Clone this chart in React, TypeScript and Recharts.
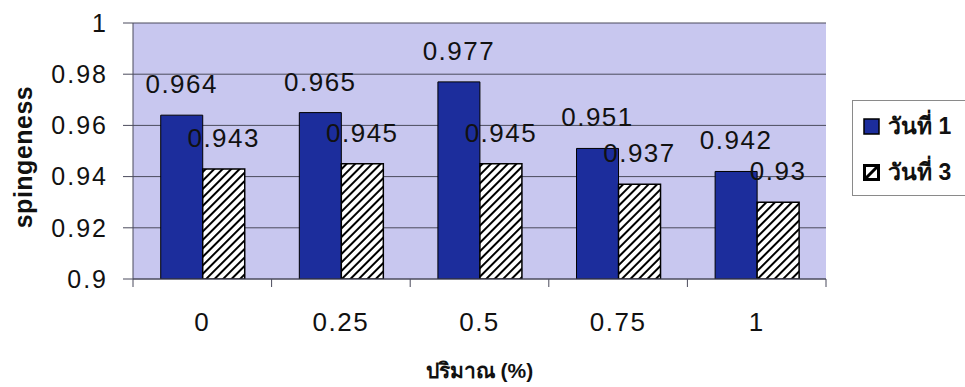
import {
  BarChart,
  Bar,
  XAxis,
  YAxis,
  CartesianGrid,
  LabelList,
  Label,
  Legend,
} from 'recharts';

const amounts = ['0', '0.25', '0.5', '0.75', '1'];
const day1 = [0.964, 0.965, 0.977, 0.951, 0.942];
const day3 = [0.943, 0.945, 0.945, 0.937, 0.93];
const yTicks = [0.9, 0.92, 0.94, 0.96, 0.98, 1];
const seriesNames = ['วันที่ 1', 'วันที่ 3'];

const rows = amounts.map((amount, i) => ({
  amount,
  day1: day1[i],
  day3: day3[i],
}));

const W = 965;
const H = 387;
const LEFT = 133;
const RIGHT = 139;
const TOP = 23;
const X_AXIS_H = 108;
const BAND = (W - LEFT - RIGHT) / amounts.length;

const FONT = 'Arial, "Liberation Sans", sans-serif';
const BLUE = '#1c2d9c';
const PLOT_BG = '#c8c7ef';
const LINE = '#4b4b5c';

function CategoryTick(props: any) {
  const { x, y, payload, index } = props;
  const half = BAND / 2;
  return (
    <g>
      <line x1={x - half} x2={x - half} y1={y} y2={y + 8} stroke={LINE} />
      {index === amounts.length - 1 && (
        <line x1={x + half} x2={x + half} y1={y} y2={y + 8} stroke={LINE} />
      )}
      <text
        x={x}
        y={y + 52}
        textAnchor="middle"
        fontSize={26}
        fontFamily={FONT}
        letterSpacing={1.5}
        fill="#111"
      >
        {payload.value}
      </text>
    </g>
  );
}

// rotated axis title, centred a little below the middle of the plot
function YTitle(props: any) {
  const { viewBox } = props;
  const cx = 23;
  const cy = viewBox.y + viewBox.height / 2 + 6;
  return (
    <text
      x={cx}
      y={cy}
      transform={`rotate(-90, ${cx}, ${cy})`}
      textAnchor="middle"
      dominantBaseline="central"
      fontFamily={FONT}
      fontWeight="bold"
      fontSize={25}
      letterSpacing={0.5}
      fill="#111"
    >
      spingeness
    </text>
  );
}

function LegendBox() {
  return (
    <div
      style={{
        border: '1px solid #8a8a8a',
        background: '#fff',
        width: 120,
        height: 96,
        boxSizing: 'border-box',
        paddingTop: 13,
        paddingLeft: 10,
        fontFamily: FONT,
        fontWeight: 'bold',
        fontSize: 23,
        color: '#111',
      }}
    >
      {seriesNames.map((name, i) => (
        <div
          key={name}
          style={{ display: 'flex', alignItems: 'center', height: 24, marginBottom: i === 0 ? 22 : 0 }}
        >
          <svg width={17} height={17} style={{ marginRight: 8 }}>
            {i === 0 ? (
              <rect x={1} y={1} width={15} height={15} fill={BLUE} stroke="#000" strokeWidth={1.5} />
            ) : (
              <g>
                <rect x={1.5} y={1.5} width={14} height={14} fill="#fff" stroke="#000" strokeWidth={3} />
                <line x1={3} y1={14} x2={14} y2={3} stroke="#000" strokeWidth={3} />
              </g>
            )}
          </svg>
          <span>{name}</span>
        </div>
      ))}
    </div>
  );
}

const labelStyle = { fontSize: 26, fontFamily: FONT, fill: '#111', letterSpacing: 1.5 };

export default function App() {
  return (
    <div style={{ position: 'absolute', left: 0, top: 0, width: W, height: H, background: '#fff' }}>
      <BarChart
        width={W}
        height={H}
        data={rows}
        margin={{ top: TOP, right: RIGHT, left: 0, bottom: 0 }}
        barCategoryGap="20%"
        barGap={0}
      >
        <defs>
          <pattern
            id="hatch"
            patternUnits="userSpaceOnUse"
            width={6}
            height={6}
            patternTransform="rotate(45)"
          >
            <rect width={6} height={6} fill="#fff" />
            <line x1={0} y1={0} x2={0} y2={6} stroke="#000" strokeWidth={4} />
          </pattern>
        </defs>
        <CartesianGrid
          vertical={false}
          stroke={LINE}
          strokeWidth={1}
          fill={PLOT_BG}
          fillOpacity={1}
        />
        <XAxis
          dataKey="amount"
          height={X_AXIS_H}
          axisLine={{ stroke: LINE }}
          tickLine={false}
          tickSize={0}
          tickMargin={0}
          interval={0}
          tick={<CategoryTick />}
        >
          <Label
            value="ปริมาณ (%)"
            position="insideBottom"
            offset={9}
            style={{ fontFamily: FONT, fontWeight: 'bold', fontSize: 21, fill: '#111' }}
          />
        </XAxis>
        <YAxis
          width={LEFT}
          domain={[0.9, 1]}
          ticks={yTicks}
          allowDataOverflow
          axisLine={{ stroke: LINE }}
          tickLine={{ stroke: LINE }}
          tickSize={10}
          tickMargin={15}
          tickFormatter={(v: number) => String(Number(v.toFixed(2)))}
          tick={{ fontSize: 25, fontFamily: FONT, fill: '#111', letterSpacing: 2 }}
        >
          <Label content={<YTitle />} />
        </YAxis>
        <YAxis
          yAxisId="frame"
          orientation="right"
          width={0}
          domain={[0.9, 1]}
          tick={false}
          tickLine={false}
          axisLine={{ stroke: LINE }}
        />
        <Legend
          layout="vertical"
          align="center"
          verticalAlign="middle"
          content={<LegendBox />}
          wrapperStyle={{ left: 852, top: 100, width: 120, height: 96 }}
        />
        <Bar
          dataKey="day1"
          name={seriesNames[0]}
          fill={BLUE}
          stroke="#000"
          strokeWidth={1}
          isAnimationActive={false}
        >
          <LabelList dataKey="day1" position="top" offset={22} style={labelStyle} />
        </Bar>
        <Bar
          dataKey="day3"
          name={seriesNames[1]}
          fill="url(#hatch)"
          stroke="#000"
          strokeWidth={1.5}
          isAnimationActive={false}
        >
          <LabelList dataKey="day3" position="top" offset={22} style={labelStyle} />
        </Bar>
      </BarChart>
    </div>
  );
}
